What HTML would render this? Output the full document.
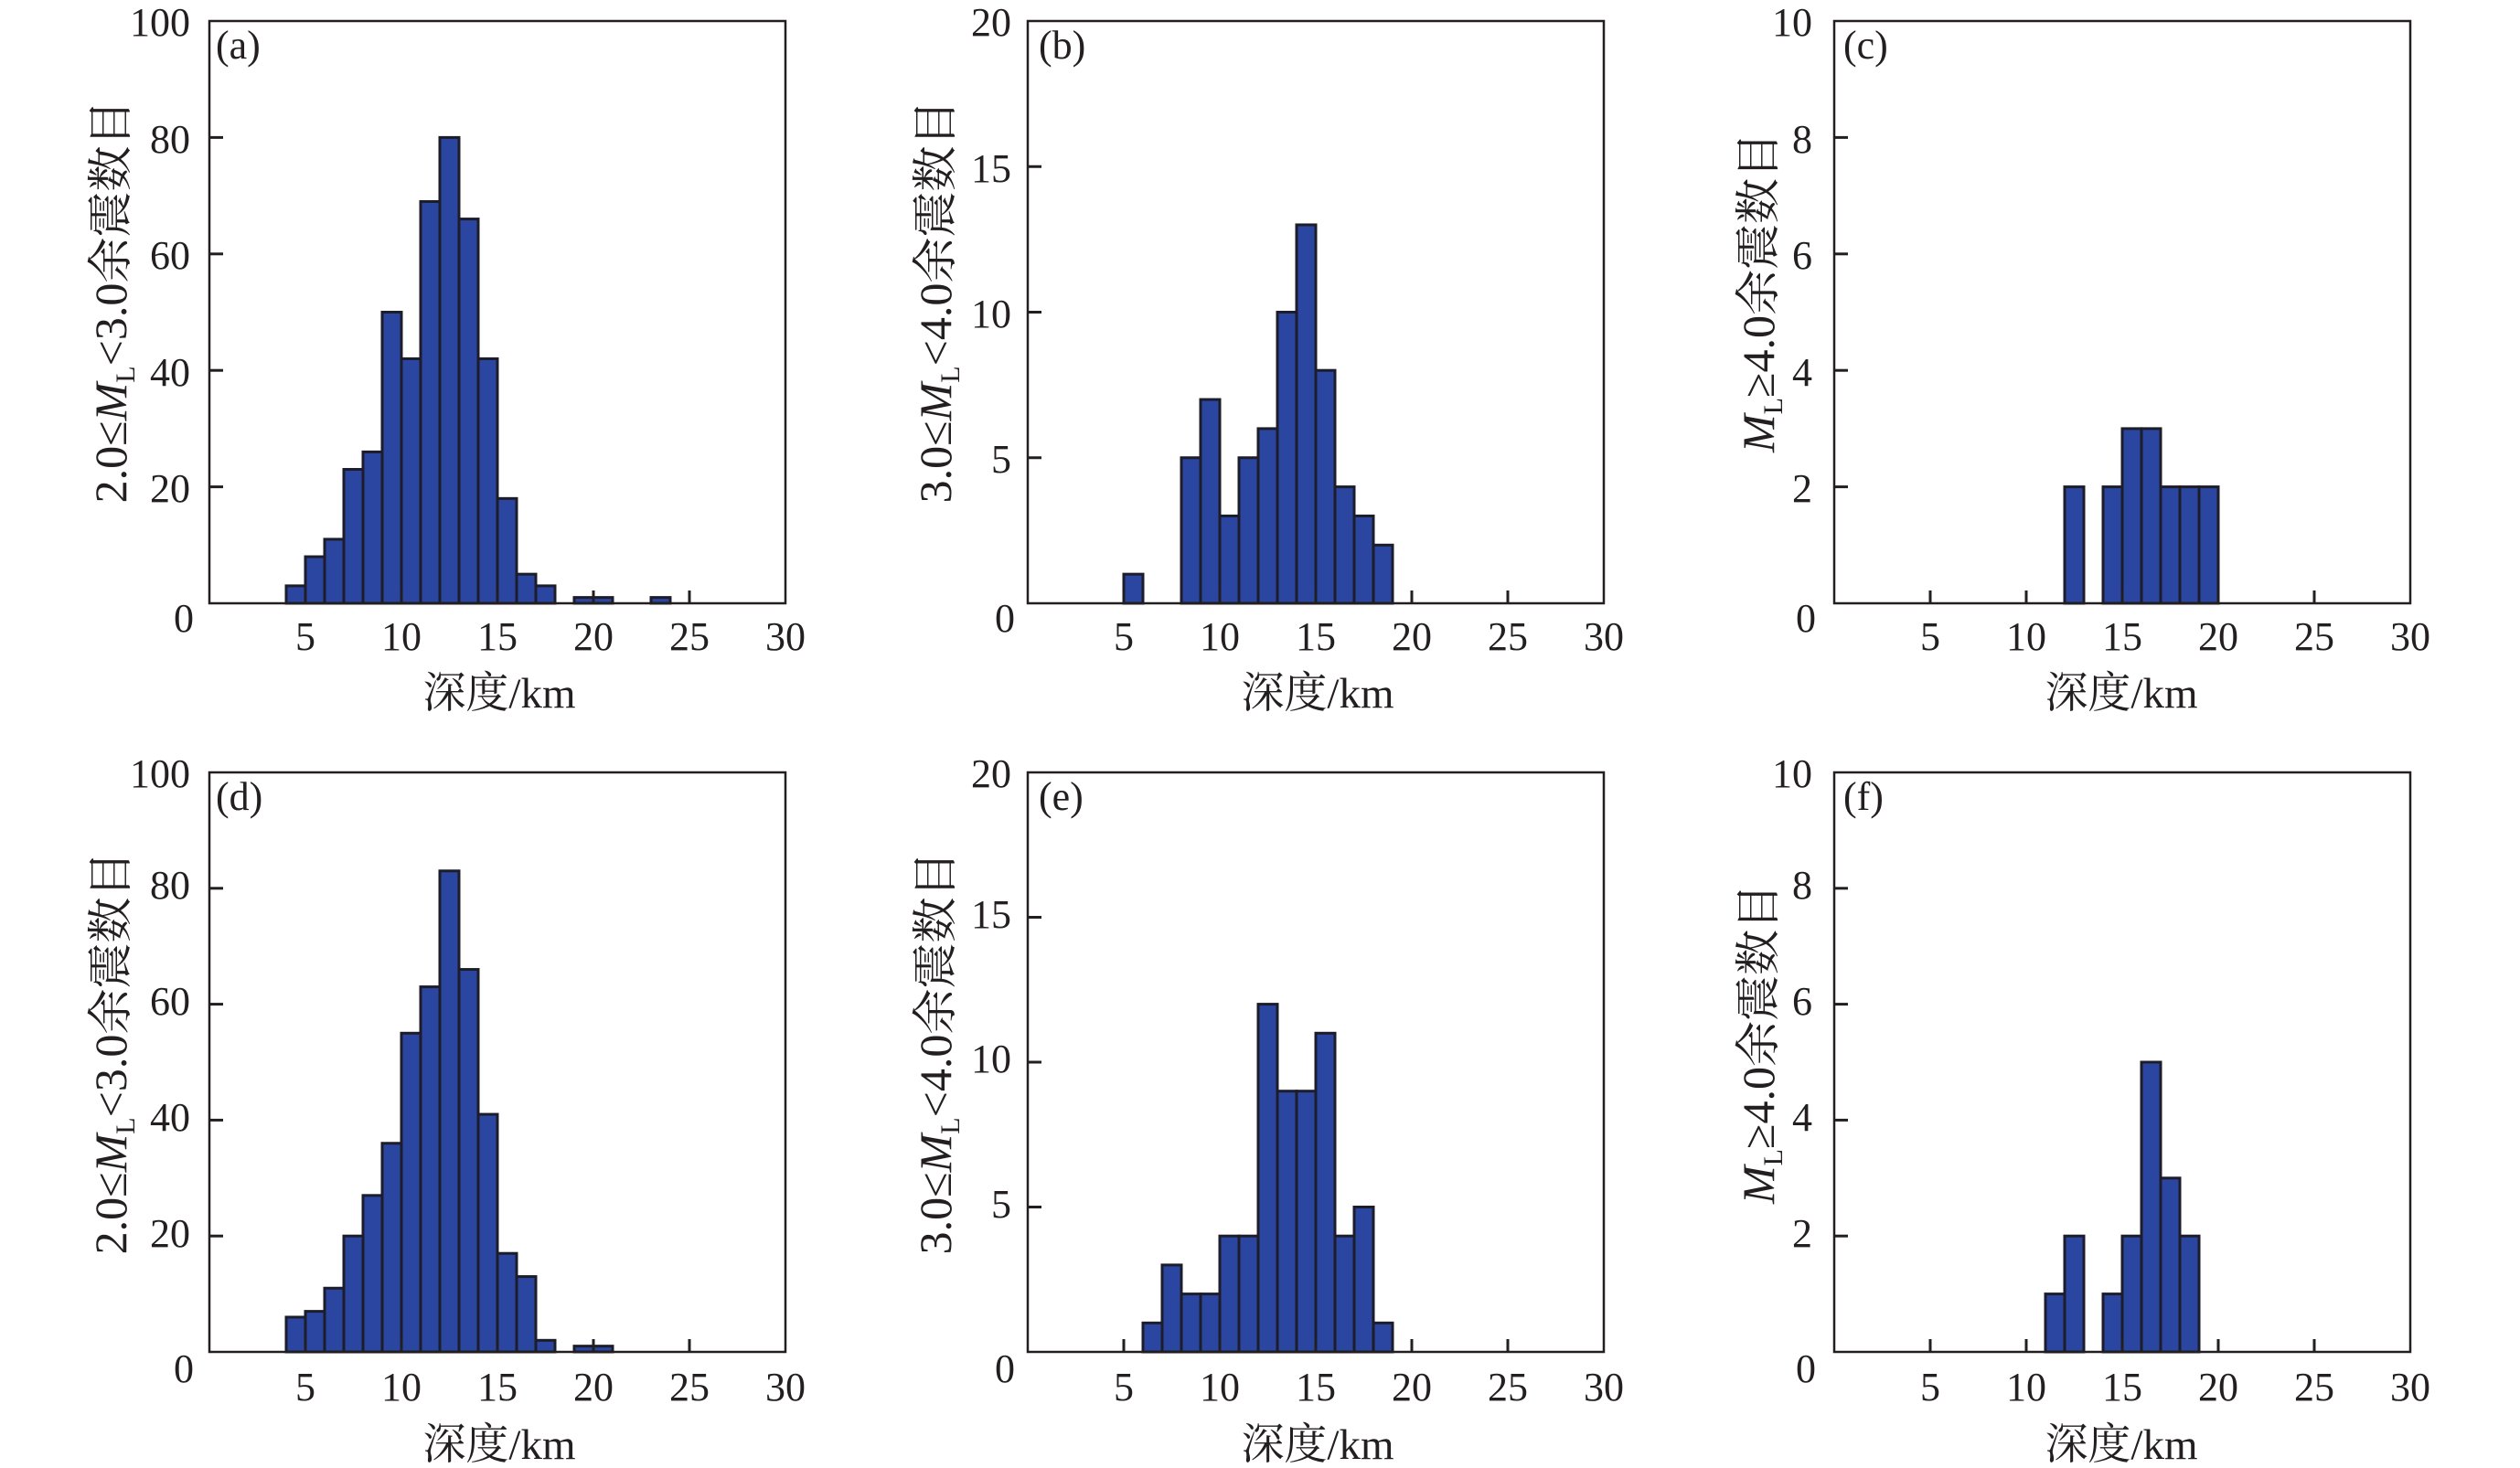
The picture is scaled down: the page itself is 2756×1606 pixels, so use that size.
<!DOCTYPE html>
<html><head><meta charset="utf-8"><style>
html,body{margin:0;padding:0;background:#fff;}
svg{display:block;}
text{font-family:"Liberation Serif","Noto Serif CJK SC",serif;fill:#231f20;}
</style></head><body>
<svg id="s" width="2756" height="1606" viewBox="0 0 2756 1606" xmlns="http://www.w3.org/2000/svg">
<g id="bars"></g>
<g id="axes"></g>
<g font-size="44" text-anchor="end">
<text x="208" y="39">100</text><text x="208" y="167">80</text><text x="208" y="294">60</text><text x="208" y="422">40</text><text x="208" y="549">20</text><text x="212" y="691">0</text>
<text x="208" y="861">100</text><text x="208" y="983">80</text><text x="208" y="1110">60</text><text x="208" y="1237">40</text><text x="208" y="1364">20</text><text x="212" y="1512">0</text>
<text x="1106" y="39">20</text><text x="1106" y="199">15</text><text x="1106" y="358">10</text><text x="1106" y="517">5</text><text x="1110" y="691">0</text>
<text x="1106" y="861">20</text><text x="1106" y="1015">15</text><text x="1106" y="1173">10</text><text x="1106" y="1332">5</text><text x="1110" y="1512">0</text>
<text x="1982" y="39">10</text><text x="1982" y="167">8</text><text x="1982" y="294">6</text><text x="1982" y="422">4</text><text x="1982" y="549">2</text><text x="1986" y="691">0</text>
<text x="1982" y="861">10</text><text x="1982" y="983">8</text><text x="1982" y="1110">6</text><text x="1982" y="1237">4</text><text x="1982" y="1364">2</text><text x="1986" y="1512">0</text>
</g>
<g font-size="44" text-anchor="middle">
<text x="334" y="711">5</text><text x="439" y="711">10</text><text x="544" y="711">15</text><text x="649" y="711">20</text><text x="754" y="711">25</text><text x="859" y="711">30</text>
<text x="334" y="1532">5</text><text x="439" y="1532">10</text><text x="544" y="1532">15</text><text x="649" y="1532">20</text><text x="754" y="1532">25</text><text x="859" y="1532">30</text>
<text x="1229" y="711">5</text><text x="1334" y="711">10</text><text x="1439" y="711">15</text><text x="1544" y="711">20</text><text x="1649" y="711">25</text><text x="1754" y="711">30</text>
<text x="1229" y="1532">5</text><text x="1334" y="1532">10</text><text x="1439" y="1532">15</text><text x="1544" y="1532">20</text><text x="1649" y="1532">25</text><text x="1754" y="1532">30</text>
<text x="2111" y="711">5</text><text x="2216" y="711">10</text><text x="2321" y="711">15</text><text x="2426" y="711">20</text><text x="2531" y="711">25</text><text x="2636" y="711">30</text>
<text x="2111" y="1532">5</text><text x="2216" y="1532">10</text><text x="2321" y="1532">15</text><text x="2426" y="1532">20</text><text x="2531" y="1532">25</text><text x="2636" y="1532">30</text>
</g>
<g font-size="47" text-anchor="middle">
<text x="546" y="774">深度/km</text><text x="1441" y="774">深度/km</text><text x="2320" y="774">深度/km</text>
<text x="546" y="1596">深度/km</text><text x="1441" y="1596">深度/km</text><text x="2320" y="1596">深度/km</text>
</g>
<g font-size="44">
<text x="236" y="64">(a)</text><text x="1136" y="64">(b)</text><text x="2016" y="64">(c)</text>
<text x="236" y="886">(d)</text><text x="1136" y="886">(e)</text><text x="2016" y="886">(f)</text>
</g>
<g font-size="50" text-anchor="middle">
<text transform="translate(138,330) rotate(-90)">2.0≤<tspan font-style="italic">M</tspan><tspan font-size="30" dy="9">L</tspan><tspan dy="-9">&lt;3.0余震数目</tspan></text>
<text transform="translate(138,1152) rotate(-90)">2.0≤<tspan font-style="italic">M</tspan><tspan font-size="30" dy="9">L</tspan><tspan dy="-9">&lt;3.0余震数目</tspan></text>
<text transform="translate(1040,330) rotate(-90)">3.0≤<tspan font-style="italic">M</tspan><tspan font-size="30" dy="9">L</tspan><tspan dy="-9">&lt;4.0余震数目</tspan></text>
<text transform="translate(1040,1152) rotate(-90)">3.0≤<tspan font-style="italic">M</tspan><tspan font-size="30" dy="9">L</tspan><tspan dy="-9">&lt;4.0余震数目</tspan></text>
<text transform="translate(1940,320) rotate(-90)"><tspan font-style="italic">M</tspan><tspan font-size="30" dy="9">L</tspan><tspan dy="-9">≥4.0余震数目</tspan></text>
<text transform="translate(1940,1142) rotate(-90)"><tspan font-style="italic">M</tspan><tspan font-size="30" dy="9">L</tspan><tspan dy="-9">≥4.0余震数目</tspan></text>
</g>
</svg>
<script>
var NS="http://www.w3.org/2000/svg";
var cols=[229,1124,2006],W=630,rows=[[23,660],[845,1479]];
var panels=[
 [0,0,100,{4:3,5:8,6:11,7:23,8:26,9:50,10:42,11:69,12:80,13:66,14:42,15:18,16:5,17:3,19:1,20:1,23:1},20],
 [1,0,20,{5:1,8:5,9:7,10:3,11:5,12:6,13:10,14:13,15:8,16:4,17:3,18:2},5],
 [2,0,10,{12:2,14:2,15:3,16:3,17:2,18:2,19:2},2],
 [0,1,100,{4:6,5:7,6:11,7:20,8:27,9:36,10:55,11:63,12:83,13:66,14:41,15:17,16:13,17:2,19:1,20:1},20],
 [1,1,20,{6:1,7:3,8:2,9:2,10:4,11:4,12:12,13:9,14:9,15:11,16:4,17:5,18:1},5],
 [2,1,10,{11:1,12:2,14:1,15:2,16:5,17:3,18:2},2]];
var bars=document.getElementById("bars"),axes=document.getElementById("axes");
function el(p,t,a){var e=document.createElementNS(NS,t);for(var k in a)e.setAttribute(k,a[k]);p.appendChild(e);return e;}
panels.forEach(function(p){
 var L=cols[p[0]],T=rows[p[1]][0],B=rows[p[1]][1],H=B-T,mx=p[2];
 var X=function(x){return L+x/30*W},Y=function(v){return B-v/mx*H};
 for(var k in p[3]){var x=+k,v=p[3][k];
  el(bars,"rect",{x:X(x),y:Y(v),width:W/30,height:B-Y(v),fill:"#2a46a0",stroke:"#1c1c2a","stroke-width":3});}
 el(axes,"rect",{x:L,y:T,width:W,height:H,fill:"none",stroke:"#231f20","stroke-width":2.5});
 for(var i=5;i<30;i+=5)el(axes,"line",{x1:X(i),x2:X(i),y1:B,y2:B-14,stroke:"#231f20","stroke-width":3});
 for(var v=p[4];v<mx;v+=p[4])el(axes,"line",{x1:L,x2:L+15,y1:Y(v),y2:Y(v),stroke:"#231f20","stroke-width":3});
});
</script>
</body></html>
